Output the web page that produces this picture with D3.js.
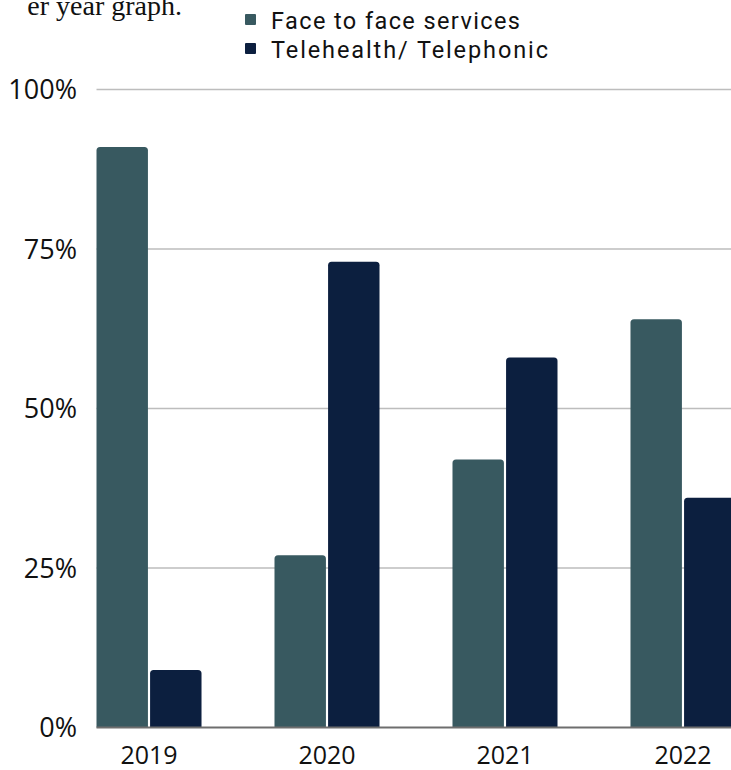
<!DOCTYPE html>
<html>
<head>
<meta charset="utf-8">
<script src="https://cdn.jsdelivr.net/npm/d3@7"></script>
<style>
  html, body { margin: 0; padding: 0; background: #fff; overflow: hidden; }
  svg { display: block; }
</style>
</head>
<body>
<script>
// Share of services delivered in person vs. remotely, per year
const years = ["2019", "2020", "2021", "2022"];
const seriesNames = ["Face to face services", "Telehealth/ Telephonic"];
const faceToFace = [91, 27, 42, 64];
const telehealth = [9, 73, 58, 36];
const tickValues = [0, 25, 50, 75, 100];
const tickLabels = ["0%", "25%", "50%", "75%", "100%"];

const colors = ["#385960", "#0c1f3f"];
const W = 731, H = 770;
const margin = { top: 89.5, bottom: 42.5, left: 96.5 };

const svg = d3.select("body").append("svg")
  .attr("width", W).attr("height", H);

const font = "'Open Sans', 'Noto Sans', sans-serif";
const legendFont = "Roboto, 'Open Sans', sans-serif";

// Trailing words of the preceding caption
svg.append("text")
  .attr("x", 182).attr("y", 15)
  .attr("text-anchor", "end")
  .attr("font-family", "'Liberation Serif', 'DejaVu Serif', serif")
  .attr("font-size", 28)
  .attr("fill", "#111")
  .text("er year graph.");

const y = d3.scaleLinear().domain([0, 100]).range([H - margin.bottom, margin.top]);
// Four groups, 178px apart, each 105px wide
const x0 = d3.scaleBand().domain(years)
  .range([margin.left, margin.left + 639])
  .paddingInner(0.41).paddingOuter(0).align(0);
const x1 = d3.scaleBand().domain(seriesNames)
  .range([0, x0.bandwidth()]).paddingInner(0.04);

// Gridlines
svg.append("g")
  .selectAll("line")
  .data(tickValues.filter(v => v > 0))
  .join("line")
  .attr("x1", margin.left).attr("x2", W)
  .attr("y1", d => y(d)).attr("y2", d => y(d))
  .attr("stroke", "#bdbdbd").attr("stroke-width", 1.3);

// Y tick labels
svg.append("g")
  .selectAll("text")
  .data(tickValues)
  .join("text")
  .attr("x", 77).attr("y", d => y(d))
  .attr("dy", "0.36em")
  .attr("text-anchor", "end")
  .attr("font-family", font).attr("font-size", 27)
  .attr("fill", "#111")
  .text((d, i) => tickLabels[i]);

// Bars with rounded top corners
function topRounded(xp, yp, w, h, r) {
  r = Math.min(r, h, w / 2);
  return `M${xp},${yp + h}V${yp + r}Q${xp},${yp} ${xp + r},${yp}` +
         `H${xp + w - r}Q${xp + w},${yp} ${xp + w},${yp + r}V${yp + h}Z`;
}

const rows = years.map((yr, i) => ({ yr, vals: [faceToFace[i], telehealth[i]] }));
const groups = svg.append("g").selectAll("g")
  .data(rows).join("g")
  .attr("transform", d => `translate(${x0(d.yr)},0)`);

groups.selectAll("path")
  .data(d => d.vals.map((v, j) => ({ v, s: seriesNames[j], j })))
  .join("path")
  .attr("d", d => topRounded(x1(d.s), y(d.v), x1.bandwidth(), y(0) - y(d.v), 3.5))
  .attr("fill", d => colors[d.j]);

// Baseline
svg.append("line")
  .attr("x1", margin.left).attr("x2", W)
  .attr("y1", y(0)).attr("y2", y(0))
  .attr("stroke", "#6e6e6e").attr("stroke-width", 2);

// X labels
svg.append("g").selectAll("text")
  .data(years).join("text")
  .attr("x", d => x0(d) + x0.bandwidth() / 2)
  .attr("y", 764)
  .attr("text-anchor", "middle")
  .attr("font-family", font).attr("font-size", 25)
  .attr("fill", "#111")
  .text(d => d);

// Legend
const legendWidths = [249, 277];
const legend = svg.append("g").selectAll("g")
  .data(seriesNames).join("g")
  .attr("transform", (d, i) => `translate(245,${14 + i * 29})`);
legend.append("rect")
  .attr("width", 11).attr("height", 11).attr("rx", 1)
  .attr("fill", (d, i) => colors[i]);
legend.append("text")
  .attr("x", 26).attr("y", 15)
  .attr("font-family", legendFont).attr("font-size", 23.5)
  .attr("textLength", (d, i) => legendWidths[i])
  .attr("lengthAdjust", "spacing")
  .attr("fill", "#111")
  .text(d => d);
</script>
</body>
</html>
